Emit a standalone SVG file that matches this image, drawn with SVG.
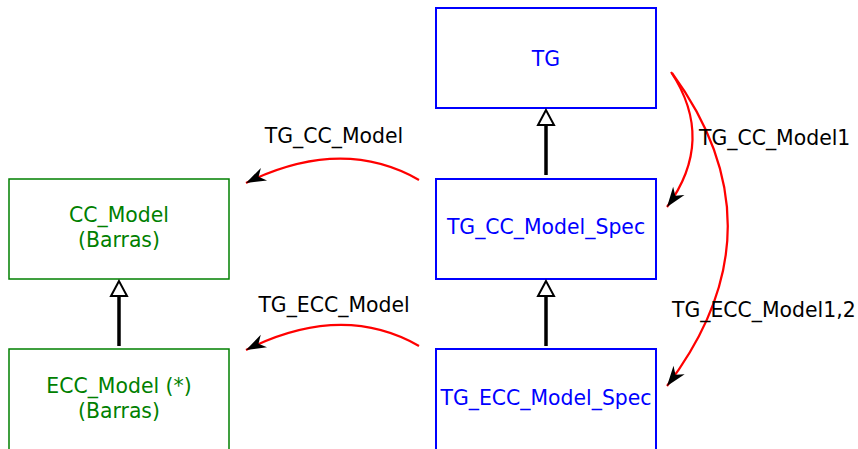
<svg xmlns="http://www.w3.org/2000/svg" width="858" height="449" viewBox="0 0 858 449">
<style>
text{font-family:"DejaVu Sans","Liberation Sans",sans-serif;font-size:20.4px;}
.blue rect{fill:#fff;stroke:#0000ff;stroke-width:2;}
.blue text{fill:#0000ff;text-anchor:middle;}
.green rect{fill:#fff;stroke:#008000;stroke-width:1.5;}
.green text{fill:#008000;text-anchor:middle;}
.inh{stroke:#000;stroke-width:3.5;fill:none;}
.tri{fill:#fff;stroke:#000;stroke-width:2;}
.rel{stroke:#ff0000;stroke-width:2.2;fill:none;marker-end:url(#dart);}
.lbl{fill:#000;}
</style>
<defs>
<marker id="dart" markerUnits="userSpaceOnUse" viewBox="-21 -8 22 16" markerWidth="22" markerHeight="16" refX="0" refY="0" orient="auto">
<path d="M0,0 L-20,-7 L-14,0 L-20,7 z" fill="#000"/>
</marker>
</defs>
<g id="TG" class="blue"><rect x="436" y="8" width="220" height="100"/><text x="546" y="66">TG</text></g>
<g id="TG_CC_Model_Spec" class="blue"><rect x="436" y="179" width="220" height="100"/><text x="546" y="234">TG_CC_Model_Spec</text></g>
<g id="TG_ECC_Model_Spec" class="blue"><rect x="436" y="349" width="220" height="110"/><text x="546" y="405">TG_ECC_Model_Spec</text></g>
<g id="CC_Model" class="green"><rect x="9" y="179" width="220" height="100"/><text x="119" y="222">CC_Model</text><text x="119" y="247">(Barras)</text></g>
<g id="ECC_Model" class="green"><rect x="9" y="349" width="220" height="110"/><text x="119" y="393">ECC_Model (*)</text><text x="119" y="418">(Barras)</text></g>
<g id="connectors">
<line class="inh" x1="546" y1="175" x2="546" y2="125"/>
<polygon class="tri" points="546,110 538,125 554,125"/>
<line class="inh" x1="546" y1="346" x2="546" y2="296"/>
<polygon class="tri" points="546,281 538,296 554,296"/>
<line class="inh" x1="119" y1="346" x2="119" y2="296"/>
<polygon class="tri" points="119,281 111,296 127,296"/>
<path class="rel" d="M419,180 Q342,136 246,183"/>
<path class="rel" d="M419,346 Q342,302 246,350"/>
<path class="rel" d="M671,72 Q716,140 667,207"/>
<path class="rel" d="M672,73 Q786,229 667,386"/>
<text class="lbl" x="334" y="143" text-anchor="middle">TG_CC_Model</text>
<text class="lbl" x="334" y="312" text-anchor="middle">TG_ECC_Model</text>
<text class="lbl" x="699" y="145">TG_CC_Model1</text>
<text class="lbl" x="672" y="317">TG_ECC_Model1,2</text>
</g>
</svg>
